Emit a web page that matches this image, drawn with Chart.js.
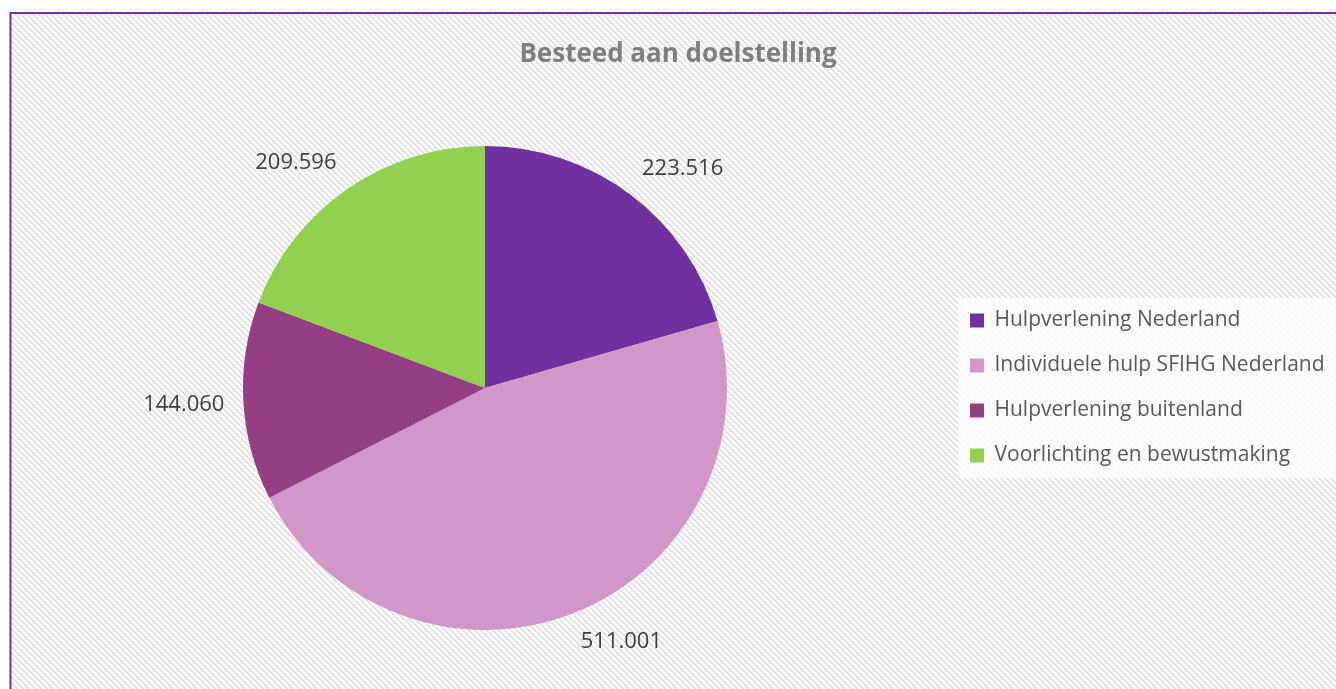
<!DOCTYPE html>
<html>
<head>
<meta charset="utf-8">
<script src="https://cdn.jsdelivr.net/npm/chart.js@4"></script>
<style>
  html, body { margin: 0; padding: 0; background: #ffffff; }
  #wrap { width: 1336px; height: 689px; }
</style>
</head>
<body>
<div id="wrap"><canvas id="doelstelling" width="1336" height="689"></canvas></div>
<script>
// Data
const categories = ['Hulpverlening Nederland', 'Individuele hulp SFIHG Nederland', 'Hulpverlening buitenland', 'Voorlichting en bewustmaking'];
const amounts = [223516, 511001, 144060, 209596];
const sliceColors = ['#7030A0', '#D197C9', '#943F84', '#92D050'];
const chartTitle = 'Besteed aan doelstelling';

const FONT = '"Open Sans", "Liberation Sans", sans-serif';
const legendFontSize = 21;
const legendBox = 14;
const legendPad = 24;
const legendLeft = 946;

// Dutch thousands format: 223516 -> 223.516
function formatNL(v) {
    return String(v).replace(/\B(?=(\d{3})+(?!\d))/g, '.');
}

// Diagonal hatch used by the chart background
function makeHatch(ctx) {
    const c = document.createElement('canvas');
    c.width = 6; c.height = 6;
    const p = c.getContext('2d');
    p.fillStyle = '#fcfcfc';
    p.fillRect(0, 0, 6, 6);
    p.fillStyle = '#dedede';
    for (let y = 0; y < 6; y++) {
        for (let x = 0; x < 6; x++) {
            if (((x - y) % 6 + 6) % 6 < 2) p.fillRect(x, y, 1, 1);
        }
    }
    return ctx.createPattern(c, 'repeat');
}

// Measure the widest legend label so the legend lands where it should
const measureCtx = document.createElement('canvas').getContext('2d');
measureCtx.font = legendFontSize + 'px ' + FONT;
const maxLabelW = Math.max(...categories.map(c => measureCtx.measureText(c).width));
const legendWidth = legendPad + legendBox + legendFontSize / 2 + maxLabelW + 10;
const padRight = Math.max(0, 1336 - legendLeft - legendWidth);

const backgroundPlugin = {
    id: 'hatchBackground',
    beforeDraw(chart) {
        const ctx = chart.ctx;
        ctx.save();
        ctx.fillStyle = '#ffffff';
        ctx.fillRect(0, 0, chart.width, chart.height);
        ctx.fillStyle = makeHatch(ctx);
        ctx.fillRect(10, 12, chart.width - 10, chart.height - 12);
        // frame
        ctx.strokeStyle = '#7030A0';
        ctx.lineWidth = 2;
        ctx.beginPath();
        ctx.moveTo(10.5, chart.height);
        ctx.lineTo(10.5, 13);
        ctx.lineTo(chart.width, 13);
        ctx.stroke();
        // light panel behind the legend
        const hb = chart.legend && chart.legend.legendHitBoxes;
        if (hb && hb.length) {
            const top = hb[0].top - 12;
            const bottom = hb[hb.length - 1].top + hb[hb.length - 1].height + 12;
            ctx.fillStyle = 'rgba(255,255,255,0.75)';
            ctx.fillRect(hb[0].left - 12, top, chart.width, bottom - top);
        }
        // title
        ctx.font = 'bold 26px ' + FONT;
        ctx.fillStyle = '#7F7F7F';
        ctx.textAlign = 'center';
        ctx.textBaseline = 'middle';
        ctx.fillText(chartTitle, 678, 55);
        ctx.restore();
    }
};

// Value labels placed just outside each slice (like "outside end")
const outsideLabels = {
    id: 'outsideLabels',
    afterDatasetsDraw(chart) {
        const ctx = chart.ctx;
        const meta = chart.getDatasetMeta(0);
        ctx.save();
        ctx.font = '22px ' + FONT;
        ctx.fillStyle = '#404040';
        ctx.textAlign = 'center';
        ctx.textBaseline = 'middle';
        meta.data.forEach((arc, i) => {
            const mid = (arc.startAngle + arc.endAngle) / 2;
            const dx = Math.cos(mid), dy = Math.sin(mid);
            const r = arc.outerRadius + 19;
            const px = arc.x + dx * r;
            const py = arc.y + dy * r;
            const text = formatNL(amounts[i]);
            const w = ctx.measureText(text).width;
            const h = 22;
            const cx = px + (w / 2) * Math.max(-1, Math.min(1, dx * 3));
            const cy = py + (h / 2) * Math.max(-1, Math.min(1, dy * 3));
            ctx.fillText(text, cx, cy);
        });
        ctx.restore();
    }
};

const ctx = document.getElementById('doelstelling').getContext('2d');
new Chart(ctx, {
    type: 'pie',
    data: {
        labels: categories,
        datasets: [{
            data: amounts,
            backgroundColor: sliceColors,
            borderWidth: 0,
            hoverOffset: 0
        }]
    },
    options: {
        responsive: false,
        animation: false,
        layout: {
            padding: { left: 24, right: padRight, top: 146, bottom: 59 }
        },
        plugins: {
            title: { display: false },
            legend: {
                display: true,
                position: 'right',
                labels: {
                    color: '#595959',
                    font: { family: FONT, size: legendFontSize },
                    boxWidth: legendBox,
                    boxHeight: legendBox,
                    padding: legendPad
                }
            },
            tooltip: { enabled: false }
        }
    },
    plugins: [backgroundPlugin, outsideLabels]
});
</script>
</body>
</html>
